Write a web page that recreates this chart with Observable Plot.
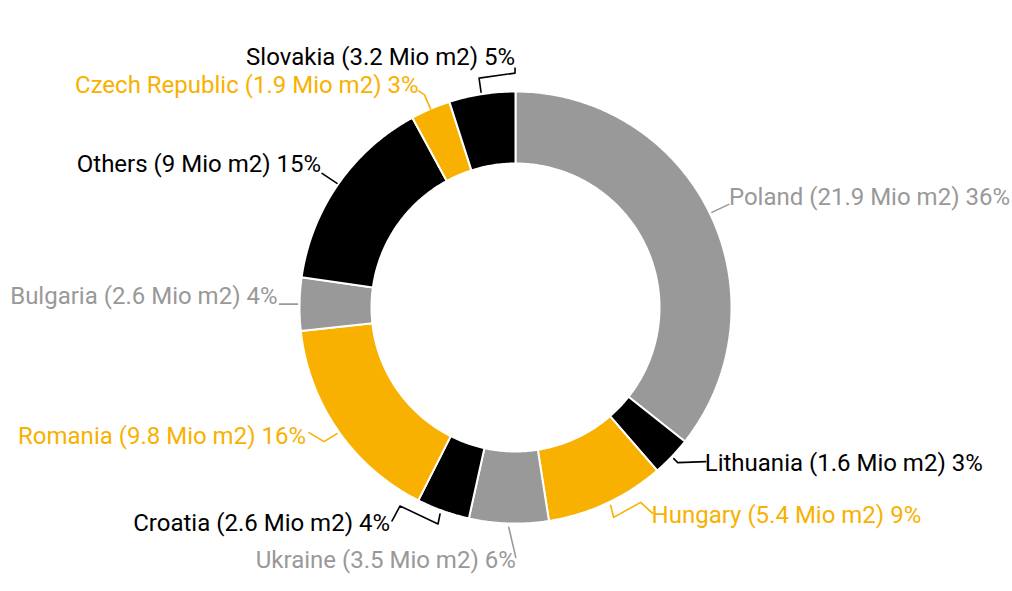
<!DOCTYPE html>
<html><head><meta charset="utf-8">
<script src="https://cdn.jsdelivr.net/npm/d3@7"></script>
<script src="https://cdn.jsdelivr.net/npm/@observablehq/plot@0.6"></script>
<style>body{margin:0;background:#fff}</style>
</head><body><div id="chart"></div>
<script>
// ---- data ----
const countries = ["Poland","Lithuania","Hungary","Ukraine","Croatia","Romania","Bulgaria","Others","Czech Republic","Slovakia"];
const areas = [21.9, 1.6, 5.4, 3.5, 2.6, 9.8, 2.6, 9, 1.9, 3.2];          // Mio m2
const shares = [36, 3, 9, 6, 4, 16, 4, 15, 3, 5];                          // % (slice sizes)
const groups = ["gray","black","yellow","gray","black","yellow","gray","black","yellow","black"];

// ---- style / layout ----
const palette = {gray: "#999999", black: "#000000", yellow: "#f8b100"};
const W = 1012, H = 591, CX = 515, CY = 307, R = 216, r = 144;
// label offset from the slice's outer mid point, anchor, and leader waypoints (offsets from the same point)
const labelLayout = [
  {dx: 19,  dy: -16, anchor: "start", leader: [[2,-1],[19,-9]]},
  {dx: 33,  dy: 7,   anchor: "start", leader: [[2,2],[6,6],[34,5]]},
  {dx: 45,  dy: 12,  anchor: "start", leader: [[4,2],[7,14],[34,-1],[46,10]]},
  {dx: 7,   dy: 37,  anchor: "end",   leader: [[0,4],[7,34]]},
  {dx: -53, dy: 12,  anchor: "end",   leader: [[-3,3],[-5,13],[-43,-5],[-51,10]]},
  {dx: -32, dy: 6,   anchor: "end",   leader: [[-1,3],[-14,11],[-29,2]]},
  {dx: -22, dy: -8,  anchor: "end",   leader: [[-2,0],[-20,0]]},
  {dx: -17, dy: -20, anchor: "end",   leader: [[-1,-1],[-16,-11]]},
  {dx: -12, dy: -24, anchor: "end",   leader: [[0,0],[-6,-14],[-12,-18]]},
  {dx: 33,  dy: -37, anchor: "end",   leader: [[-1,-2],[-3,-16],[33,-21],[33,-26]]}
];

const data = countries.map((c, i) => ({
  name: c, area: areas[i], share: shares[i], color: palette[groups[i]], lay: labelLayout[i],
  label: `${c} (${areas[i]} Mio m2) ${shares[i]}%`
}));

const arcs = d3.pie().sort(null).value(d => d.share)(data);
const polar = (a, rad) => ({x: rad * Math.sin(a), y: -rad * Math.cos(a)});

// slice polygons
const slicePts = [];
arcs.forEach(a => {
  const n = Math.max(8, Math.ceil((a.endAngle - a.startAngle) * 80));
  const ring = [];
  for (let k = 0; k <= n; k++) ring.push(polar(a.startAngle + (a.endAngle - a.startAngle) * k / n, R));
  for (let k = n; k >= 0; k--) ring.push(polar(a.startAngle + (a.endAngle - a.startAngle) * k / n, r));
  ring.push(ring[0]);
  ring.forEach(p => slicePts.push({...p, name: a.data.name, color: a.data.color}));
});

// labels and leaders
const labels = [], leaderPts = [];
arcs.forEach(a => {
  const d = a.data, L = d.lay, mid = (a.startAngle + a.endAngle) / 2;
  const o = polar(mid, R);
  labels.push({x: o.x + L.dx, y: o.y + L.dy, text: d.label, color: d.color, anchor: L.anchor});
  L.leader.forEach(([ox, oy]) => leaderPts.push({x: o.x + ox, y: o.y + oy, name: d.name, color: d.color}));
});

const font = {fontSize: 24, fontFamily: "Roboto, 'Noto Sans', sans-serif"};
const chart = Plot.plot({
  width: W, height: H, margin: 0,
  x: {domain: [-CX, W - CX], range: [0, W], axis: null},
  y: {domain: [-CY, H - CY], range: [0, H], axis: null},
  color: {type: "identity"},
  marks: [
    Plot.line(slicePts, {x: "x", y: "y", z: "name", fill: "color", stroke: "white", strokeWidth: 2, strokeLinejoin: "miter", curve: "linear"}),
    Plot.line(leaderPts, {x: "x", y: "y", z: "name", stroke: "color", strokeWidth: 1.6, curve: "linear"}),
    Plot.text(labels.filter(d => d.anchor === "start"), {x: "x", y: "y", text: "text", fill: "color", textAnchor: "start", lineAnchor: "middle", ...font}),
    Plot.text(labels.filter(d => d.anchor === "end"), {x: "x", y: "y", text: "text", fill: "color", textAnchor: "end", lineAnchor: "middle", ...font})
  ]
});
document.getElementById("chart").appendChild(chart);
</script>
</body></html>
